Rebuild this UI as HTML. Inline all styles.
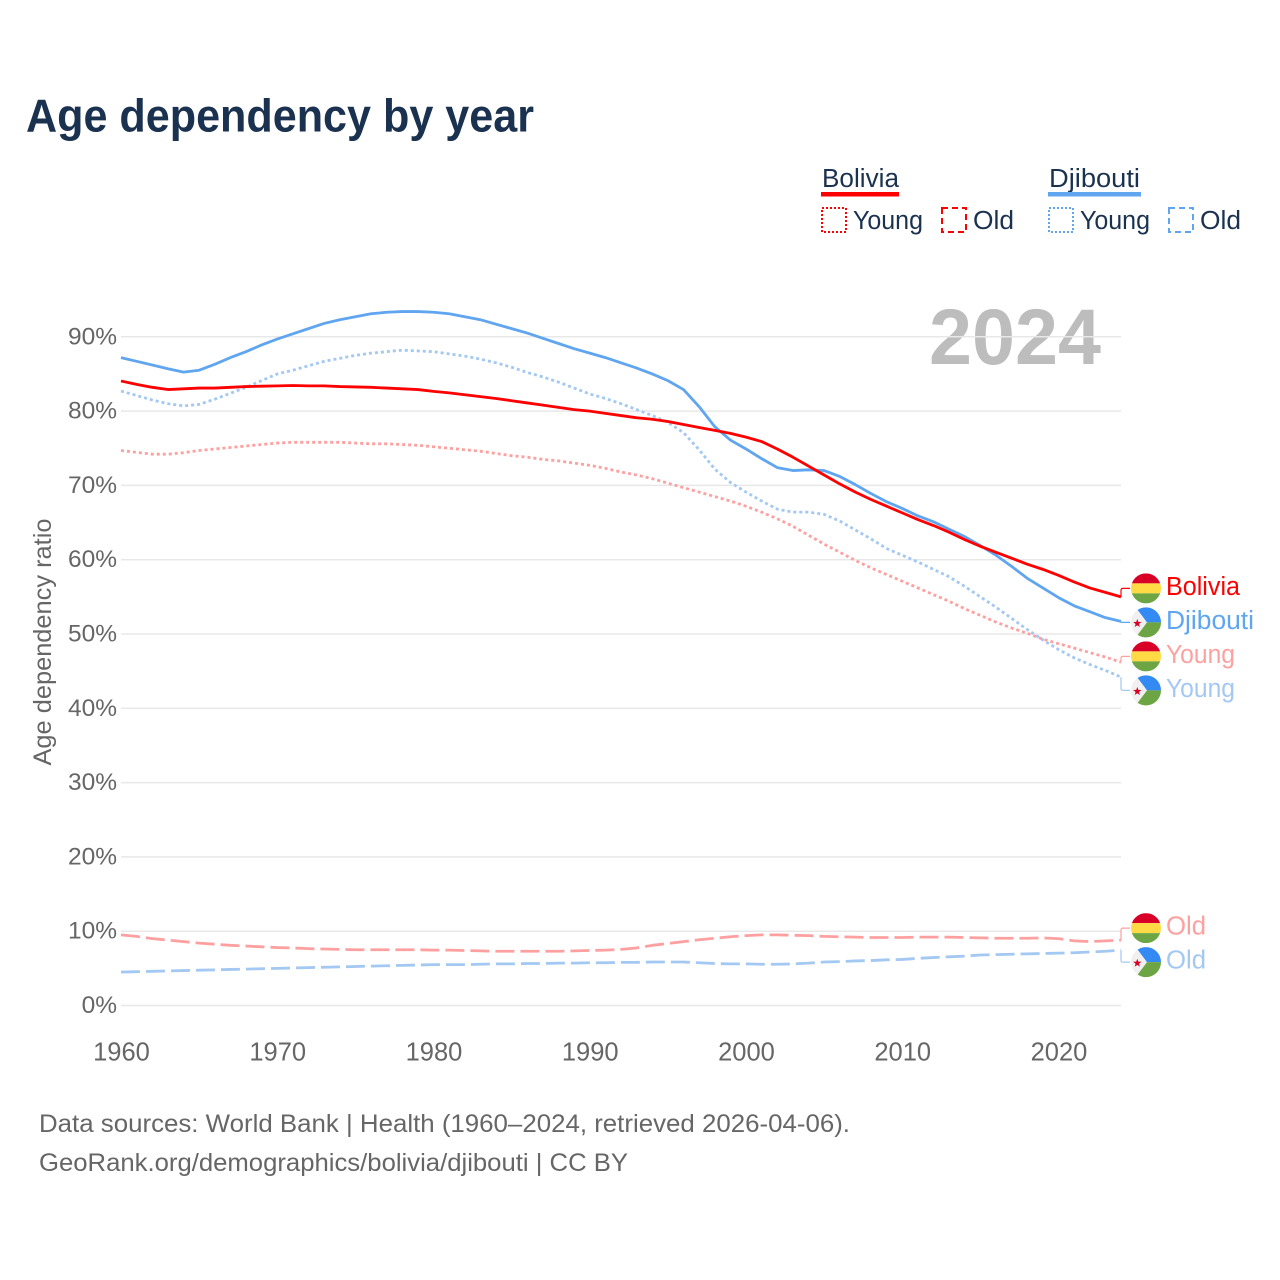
<!DOCTYPE html>
<html lang="en">
<head>
<meta charset="utf-8">
<title>Age dependency by year</title>
<style>
html,body{margin:0;padding:0;background:#fff;}
svg{display:block;}
text{font-family:"Liberation Sans",sans-serif;}
.legend-text{font-size:25.5px;fill:#1a3250;}
.foot{font-size:25px;fill:#666;}
</style>
</head>
<body>
<svg id="chart" xmlns="http://www.w3.org/2000/svg" width="1280" height="1280" viewBox="0 0 1280 1280">
  <rect x="0" y="0" width="1280" height="1280" fill="#fff"/>
  <text x="26" y="131.5" font-size="46" font-weight="700" fill="#1a3250" textLength="508" lengthAdjust="spacingAndGlyphs">Age dependency by year</text>

  <g>
    <text class="legend-text" x="822" y="187" textLength="77" lengthAdjust="spacingAndGlyphs">Bolivia</text>
    <rect x="821" y="192" width="78" height="4.5" fill="#ff0000"/>
    <g>
      <rect x="822" y="208" width="24" height="24" fill="none" stroke="#ff0000" stroke-width="2" stroke-dasharray="2 2"/>
      <text class="legend-text" x="853" y="229" textLength="70" lengthAdjust="spacingAndGlyphs">Young</text>
    </g>
    <g>
      <rect x="942" y="208" width="24" height="24" fill="none" stroke="#ff0000" stroke-width="2" stroke-dasharray="6 4"/>
      <text class="legend-text" x="973" y="229" textLength="41" lengthAdjust="spacingAndGlyphs">Old</text>
    </g>
    <text class="legend-text" x="1049" y="187" textLength="91" lengthAdjust="spacingAndGlyphs">Djibouti</text>
    <rect x="1048" y="192" width="93" height="4.5" fill="#5fa5ef"/>
    <g>
      <rect x="1049" y="208" width="24" height="24" fill="none" stroke="#5fa5ef" stroke-width="2" stroke-dasharray="2 2"/>
      <text class="legend-text" x="1080" y="229" textLength="70" lengthAdjust="spacingAndGlyphs">Young</text>
    </g>
    <g>
      <rect x="1169" y="208" width="24" height="24" fill="none" stroke="#5fa5ef" stroke-width="2" stroke-dasharray="6 4"/>
      <text class="legend-text" x="1200" y="229" textLength="41" lengthAdjust="spacingAndGlyphs">Old</text>
    </g>
  </g>

  <text x="929" y="364" font-size="79" font-weight="700" fill="#bdbdbd" textLength="172" lengthAdjust="spacingAndGlyphs">2024</text>

  <text transform="translate(51,642) rotate(-90)" text-anchor="middle" font-size="25" fill="#666" textLength="247" lengthAdjust="spacingAndGlyphs">Age dependency ratio</text>

  <g id="grid"></g>
  <g id="yticks"></g>
  <g id="xticks"></g>
  <g id="series"></g>
  <g id="labels"></g>

  <text class="foot" x="39" y="1132" textLength="811" lengthAdjust="spacingAndGlyphs">Data sources: World Bank | Health (1960–2024, retrieved 2026-04-06).</text>
  <text class="foot" x="39" y="1171" textLength="589" lengthAdjust="spacingAndGlyphs">GeoRank.org/demographics/bolivia/djibouti | CC BY</text>
</svg>

<script>
const startYear = 1960;
const endYear = 2024;
const yTickValues = [0, 10, 20, 30, 40, 50, 60, 70, 80, 90];
const xTickYears = [1960, 1970, 1980, 1990, 2000, 2010, 2020];

const boliviaTotal = [
  84.05,83.6,83.2,82.9,83.0,83.1,83.1,83.2,83.3,83.35,
  83.4,83.45,83.4,83.4,83.3,83.25,83.2,83.1,83.0,82.9,
  82.65,82.45,82.2,81.95,81.7,81.4,81.1,80.8,80.5,80.2,
  80.0,79.7,79.4,79.1,78.9,78.6,78.2,77.8,77.4,77.0,
  76.5,75.9,74.9,73.8,72.6,71.4,70.2,69.1,68.1,67.2,
  66.3,65.4,64.6,63.7,62.7,61.8,61.0,60.2,59.4,58.7,
  57.9,57.0,56.2,55.6,55.0];
const djiboutiTotal = [
  87.2,86.7,86.2,85.7,85.25,85.5,86.3,87.2,88.0,88.9,
  89.7,90.4,91.1,91.8,92.3,92.7,93.1,93.3,93.4,93.4,
  93.3,93.1,92.7,92.3,91.7,91.1,90.5,89.8,89.1,88.4,
  87.8,87.2,86.5,85.8,85.0,84.1,82.9,80.6,77.9,76.1,
  74.9,73.6,72.4,72.0,72.1,72.0,71.2,70.1,68.9,67.8,
  66.9,65.9,65.1,64.1,63.1,61.9,60.6,59.1,57.5,56.2,
  54.9,53.8,53.0,52.2,51.7];
const boliviaYoung = [
  74.7,74.45,74.2,74.2,74.4,74.7,74.9,75.1,75.3,75.5,
  75.7,75.8,75.8,75.8,75.8,75.7,75.6,75.6,75.5,75.4,
  75.2,75.0,74.8,74.6,74.3,74.0,73.8,73.5,73.3,73.0,
  72.7,72.3,71.8,71.4,70.9,70.3,69.7,69.1,68.5,67.9,
  67.2,66.4,65.5,64.5,63.3,62.1,61.0,59.9,58.9,58.0,
  57.1,56.2,55.3,54.4,53.4,52.5,51.6,50.8,50.1,49.3,
  48.7,48.1,47.5,46.9,46.2];
const djiboutiYoung = [
  82.7,82.1,81.5,81.0,80.7,80.9,81.6,82.4,83.2,84.1,
  85.0,85.5,86.1,86.7,87.1,87.5,87.8,88.0,88.2,88.1,
  88.0,87.7,87.4,87.0,86.5,85.9,85.2,84.6,83.9,83.1,
  82.3,81.7,81.0,80.2,79.4,78.5,77.1,74.8,72.2,70.4,
  69.1,67.9,66.8,66.4,66.4,66.1,65.2,64.0,62.8,61.5,
  60.6,59.7,58.7,57.7,56.4,55.0,53.6,52.1,50.6,49.2,
  47.9,46.8,45.9,45.1,44.2];
const boliviaOld = [
  9.5,9.3,9.0,8.8,8.6,8.4,8.25,8.1,8.0,7.9,
  7.8,7.75,7.65,7.6,7.55,7.5,7.5,7.5,7.5,7.5,
  7.45,7.45,7.4,7.35,7.3,7.3,7.3,7.3,7.3,7.35,
  7.4,7.45,7.55,7.75,8.1,8.35,8.6,8.85,9.05,9.25,
  9.4,9.5,9.5,9.45,9.4,9.3,9.25,9.2,9.15,9.15,
  9.15,9.2,9.2,9.2,9.15,9.1,9.05,9.05,9.05,9.1,
  9.0,8.7,8.6,8.7,8.8];
const djiboutiOld = [
  4.5,4.55,4.6,4.65,4.7,4.75,4.8,4.85,4.9,4.95,
  5.0,5.05,5.1,5.15,5.2,5.25,5.3,5.35,5.4,5.45,
  5.5,5.5,5.5,5.55,5.6,5.6,5.65,5.65,5.7,5.7,
  5.75,5.75,5.8,5.8,5.85,5.85,5.85,5.75,5.65,5.6,
  5.6,5.55,5.55,5.6,5.7,5.85,5.9,6.0,6.05,6.15,
  6.2,6.35,6.45,6.55,6.65,6.8,6.85,6.9,6.95,7.0,
  7.05,7.1,7.2,7.3,7.45];

const NS = 'http://www.w3.org/2000/svg';
const plotLeft = 121, plotRight = 1121, plotZero = 1005.5, pxPerPercent = 7.43;
const RED = '#ff0000', BLUE = '#5fa5ef', LRED = '#ffa0a0', LBLUE = '#a3c8f2';
const DOT = '3 3', DASH = '19 6';

function xScale(year) {
  return plotLeft + (year - startYear) * (plotRight - plotLeft) / (endYear - startYear);
}
function yScale(value) {
  return plotZero - value * pxPerPercent;
}
function make(tag, parent, attrs) {
  const node = document.createElementNS(NS, tag);
  for (const k in attrs) node.setAttribute(k, attrs[k]);
  parent.appendChild(node);
  return node;
}

const gridG = document.getElementById('grid');
const yG = document.getElementById('yticks');
yTickValues.forEach(function (v) {
  let el = make('line', gridG, {x1: plotLeft, x2: plotRight, y1: yScale(v), y2: yScale(v), stroke: '#e8e8e8', 'stroke-width': 1.5});
  
  
  el = make('text', yG, {x: 117, y: yScale(v) + 7.5, 'text-anchor': 'end', 'font-size': 24.5, fill: '#666'});
  el.textContent = v + '%';
  
  
});

const xG = document.getElementById('xticks');
xTickYears.forEach(function (yr) {
  const el = make('text', xG, {x: xScale(yr) + 0.5, y: 1060.5, 'text-anchor': 'middle', 'font-size': 25.5, fill: '#666'});
  el.textContent = String(yr);
  
  
});

function linePath(values) {
  return values.map(function (v, i) {
    return (i ? 'L' : 'M') + xScale(startYear + i).toFixed(2) + ' ' + yScale(v).toFixed(2);
  }).join(' ');
}

const seriesG = document.getElementById('series');
function drawLine(values, color, dash, width) {
  const el = make('path', seriesG, {d: linePath(values), fill: 'none', stroke: color, 'stroke-width': width, 'stroke-linejoin': 'round'});
  if (dash) el.setAttribute('stroke-dasharray', dash);
  return el;
}
let lineEl = drawLine(boliviaOld, LRED, DASH, 2.8);


lineEl = drawLine(djiboutiOld, LBLUE, DASH, 2.8);


lineEl = drawLine(boliviaYoung, LRED, DOT, 2.8);


lineEl = drawLine(djiboutiYoung, LBLUE, DOT, 2.8);


lineEl = drawLine(djiboutiTotal, BLUE, null, 2.8);


lineEl = drawLine(boliviaTotal, RED, null, 2.8);



/* End labels: sorted by last value, collisions resolved by merging into centred groups */
const endEntries = [
  {text: 'Bolivia',  country: 'bo', color: RED,   width: 74, values: boliviaTotal},
  {text: 'Djibouti', country: 'dj', color: BLUE,  width: 88, values: djiboutiTotal},
  {text: 'Young',    country: 'bo', color: LRED,  width: 69, values: boliviaYoung},
  {text: 'Young',    country: 'dj', color: LBLUE, width: 69, values: djiboutiYoung},
  {text: 'Old',      country: 'bo', color: LRED,  width: 40, values: boliviaOld},
  {text: 'Old',      country: 'dj', color: LBLUE, width: 40, values: djiboutiOld}
];
endEntries.forEach(function (e) { e.endY = yScale(e.values[e.values.length - 1]); });
endEntries.sort(function (a, b) { return a.endY - b.endY; });

const labelGap = 34;
let groups = endEntries.map(function (e) { return {items: [e], centre: e.endY}; });
let merged = true;
while (merged) {
  merged = false;
  for (let i = 0; i + 1 < groups.length; i++) {
    const a = groups[i], b = groups[i + 1];
    const aBottom = a.centre + (a.items.length - 1) * labelGap / 2;
    const bTop = b.centre - (b.items.length - 1) * labelGap / 2;
    if (bTop - aBottom < labelGap) {
      const items = a.items.concat(b.items);
      const centre = items.reduce(function (s, e) { return s + e.endY; }, 0) / items.length;
      groups.splice(i, 2, {items: items, centre: centre});
      merged = true;
      break;
    }
  }
}
groups.forEach(function (g) {
  g.items.forEach(function (e, i) {
    e.slotY = g.centre + (i - (g.items.length - 1) / 2) * labelGap;
  });
});

const labelsG = document.getElementById('labels');
const defs = make('defs', labelsG, {});
function drawFlag(parent, country, cx, cy, id) {
  const clip = make('clipPath', defs, {id: id});
  make('circle', clip, {cx: cx, cy: cy, r: 15});
  const g = make('g', parent, {'clip-path': 'url(#' + id + ')'});
  if (country === 'bo') {
    make('rect', g, {x: cx - 15, y: cy - 15, width: 30, height: 10, fill: '#d80027'});
    make('rect', g, {x: cx - 15, y: cy - 5, width: 30, height: 10, fill: '#ffda44'});
    make('rect', g, {x: cx - 15, y: cy + 5, width: 30, height: 10, fill: '#6da544'});
  } else {
    make('rect', g, {x: cx - 15, y: cy - 15, width: 30, height: 30, fill: '#f0f0f0'});
    make('polygon', g, {points: [cx - 11, cy - 16, cx + 1, cy, cx + 16, cy, cx + 16, cy - 16].join(' '), fill: '#338af3'});
    make('polygon', g, {points: [cx - 11, cy + 16, cx + 1, cy, cx + 16, cy, cx + 16, cy + 16].join(' '), fill: '#6da544'});
    const pts = [];
    for (let k = 0; k < 10; k++) {
      const r = k % 2 ? 1.8 : 4.4;
      const a = -Math.PI / 2 + k * Math.PI / 5;
      pts.push((cx - 8.7 + r * Math.cos(a)).toFixed(2), (cy + 1 + r * Math.sin(a)).toFixed(2));
    }
    make('polygon', g, {points: pts.join(' '), fill: '#d80027'});
  }
  return g;
}
endEntries.forEach(function (e, i) {
  const sy = e.slotY;
  const d = sy < e.endY ? -1 : 1;
  const r = Math.min(2, Math.abs(sy - e.endY) / 2);
  let el = make('path', labelsG, {
    d: 'M' + plotRight + ' ' + e.endY + ' L' + plotRight + ' ' + (sy - d * r) +
       ' Q' + plotRight + ' ' + sy + ' ' + (plotRight + r) + ' ' + sy + ' L1130 ' + sy,
    fill: 'none', stroke: e.color, 'stroke-width': 1.2
  });
  
  

  el = drawFlag(labelsG, e.country, 1146, sy, 'flag-clip-' + i);
  
  

  el = make('text', labelsG, {x: 1166, y: sy + 6.5, 'font-size': 25.5, fill: e.color, textLength: e.width, lengthAdjust: 'spacingAndGlyphs'});
  el.textContent = e.text;
  
  
});
</script>
</body>
</html>
